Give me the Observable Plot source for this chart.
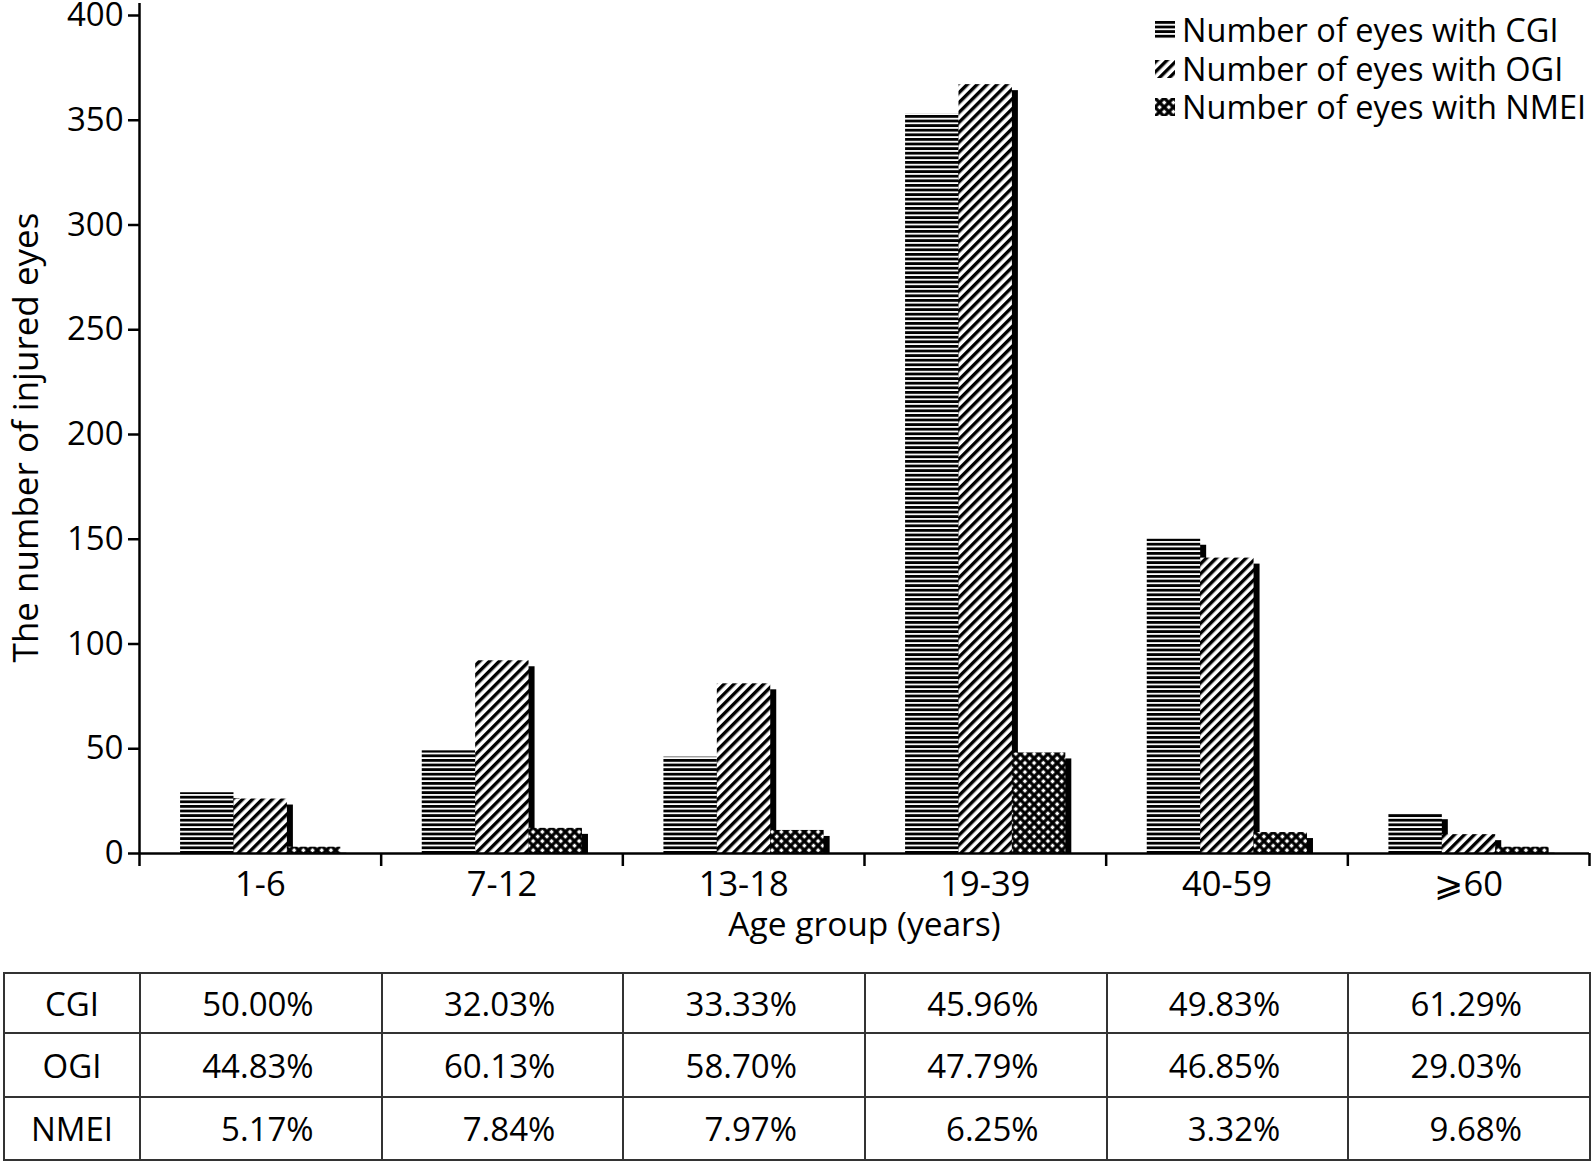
<!DOCTYPE html>
<html>
<head>
<meta charset="utf-8">
<script src="https://cdn.jsdelivr.net/npm/d3@7"></script>
<script src="https://cdn.jsdelivr.net/npm/@observablehq/plot@0.6"></script>
<style>
  body { margin: 0; background: #fff; font-family: "Open Sans", sans-serif; color: #000; }
  #wrap { position: relative; width: 1594px; height: 1163px; overflow: hidden; }
  #legend { position: absolute; left: 1155px; top: 11px; font-size: 32.5px; line-height: 38.5px; }
  #legend .row { display: flex; align-items: center; white-space: nowrap; height: 38.5px; }
  #legend .row span { display: inline-block; line-height: 38.5px; height: 38.5px; overflow: visible; }
  #legend svg { margin-right: 7px; }
  #tbl { position: absolute; left: 3px; top: 972px; border-collapse: collapse; table-layout: fixed; font-size: 33px; }
  #tbl td { border: 2px solid #333; height: 58px; padding: 0; text-align: right; padding-right: 67px; box-sizing: border-box; }
  #tbl td.h { text-align: center; padding-right: 0; }
</style>
</head>
<body>
<svg width="0" height="0" style="position:absolute">
  <defs>
    <pattern id="pat-cgi" patternUnits="userSpaceOnUse" width="8" height="4.6">
      <rect x="0" y="0" width="8" height="4.6" fill="#fff"/>
      <rect x="0" y="0" width="8" height="2.8" fill="#000"/>
    </pattern>
    <pattern id="pat-ogi" patternUnits="userSpaceOnUse" width="7" height="7" patternTransform="rotate(45)">
      <rect x="0" y="0" width="7" height="7" fill="#fff"/>
      <rect x="0" y="0" width="3.4" height="7" fill="#000"/>
    </pattern>
    <pattern id="pat-nmei" patternUnits="userSpaceOnUse" width="6.5" height="6.5" patternTransform="rotate(45)">
      <rect x="0" y="0" width="6.5" height="6.5" fill="#000"/>
      <rect x="1.6" y="1.6" width="3.3" height="3.3" fill="#fff"/>
    </pattern>
  </defs>
</svg>
<div id="wrap"></div>
<script>
// ---- data ----
const ageGroups = ["1-6", "7-12", "13-18", "19-39", "40-59", "⩾60"];
const seriesNames = ["CGI", "OGI", "NMEI"];
const legendLabels = ["Number of eyes with CGI", "Number of eyes with OGI", "Number of eyes with NMEI"];
const cgiCounts  = [29, 49, 46, 353, 150, 19];
const ogiCounts  = [26, 92, 81, 367, 141, 9];
const nmeiCounts = [3, 12, 11, 48, 10, 3];
const cgiPct  = ["50.00%", "32.03%", "33.33%", "45.96%", "49.83%", "61.29%"];
const ogiPct  = ["44.83%", "60.13%", "58.70%", "47.79%", "46.85%", "29.03%"];
const nmeiPct = ["5.17%", "7.84%", "7.97%", "6.25%", "3.32%", "9.68%"];
const yTicks = [0, 50, 100, 150, 200, 250, 300, 350, 400];

// ---- layout constants ----
const patterns = ["url(#pat-cgi)", "url(#pat-ogi)", "url(#pat-nmei)"];
const barStart = 0.17, barW = 0.221;
const counts = [cgiCounts, ogiCounts, nmeiCounts];

const data = ageGroups.flatMap((g, gi) => seriesNames.map((s, si) => ({
  group: g, gi, series: s, si, value: counts[si][gi],
  x1: gi + barStart + si * barW, x2: gi + barStart + (si + 1) * barW
})));

const barMarks = seriesNames.map((s, si) =>
  Plot.rectY(data.filter(d => d.si === si), {x1: "x1", x2: "x2", y1: 0, y2: "value", fill: patterns[si]})
);

const chart = Plot.plot({
  width: 1594,
  height: 950,
  marginLeft: 139,
  marginRight: 5,
  marginTop: 15,
  marginBottom: 97,
  x: {domain: [0, ageGroups.length]},
  y: {domain: [0, 400]},
  style: {fontFamily: "Open Sans", fontSize: "33px", color: "#000", background: "transparent", overflow: "visible"},
  marks: [
    Plot.rectY(data, {x1: "x1", x2: "x2", y1: 0, y2: "value", fill: "#000", dx: 6, insetTop: 6}),
    ...barMarks,
    Plot.axisY({ticks: yTicks, tickSize: 11, tickPadding: 5, label: null, strokeWidth: 2.5, fontSize: 33}),
    Plot.axisX({ticks: d3.range(0, ageGroups.length + 1), tickSize: 13, tickFormat: () => "", label: null, strokeWidth: 2.5}),
    Plot.axisX({ticks: ageGroups.map((_, i) => i + 0.5), tickSize: 0, tickPadding: 18, label: null,
      tickFormat: d => ageGroups[Math.floor(d)], fontSize: 34.5}),
    Plot.ruleY([0], {strokeWidth: 2.5}),
    Plot.ruleX([0], {strokeWidth: 2.5, insetTop: -12}),
    Plot.text(["The number of injured eyes"], {frameAnchor: "left", rotate: -90, dx: -113, dy: 3, fontSize: 35, textAnchor: "middle"}),
    Plot.text(["Age group (years)"], {frameAnchor: "bottom", dy: 72, fontSize: 33.5, lineAnchor: "middle"})
  ]
});

const wrap = document.getElementById("wrap");
wrap.appendChild(chart);

// legend
const legend = document.createElement("div");
legend.id = "legend";
legendLabels.forEach((lab, i) => {
  const row = document.createElement("div");
  row.className = "row";
  row.innerHTML = `<svg width="20" height="18"><rect x="0" y="0" width="20" height="18" fill="${patterns[i]}"/></svg><span>${lab}</span>`;
  legend.appendChild(row);
});
wrap.appendChild(legend);

// table
const tbl = document.createElement("table");
tbl.id = "tbl";
const colgroup = document.createElement("colgroup");
colgroup.innerHTML = `<col style="width:136px">` + ageGroups.map(() => `<col style="width:241.67px">`).join("");
tbl.appendChild(colgroup);
const pctRows = [cgiPct, ogiPct, nmeiPct];
seriesNames.forEach((s, si) => {
  const tr = document.createElement("tr");
  tr.innerHTML = `<td class="h">${s}</td>` + pctRows[si].map(v => `<td>${v}</td>`).join("");
  tr.style.height = ["60px", "64px", "63px"][si];
  tbl.appendChild(tr);
});
wrap.appendChild(tbl);
</script>
</body>
</html>
